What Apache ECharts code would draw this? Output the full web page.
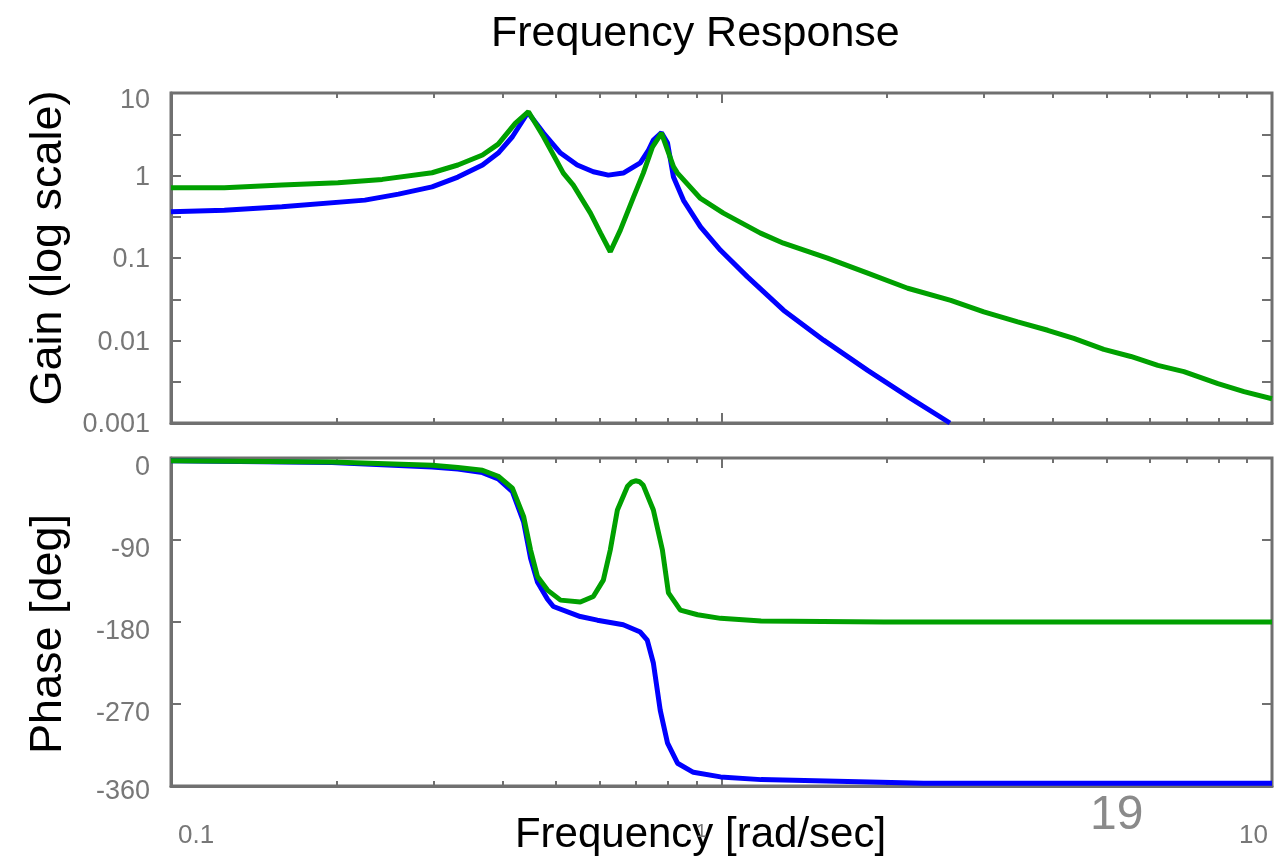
<!DOCTYPE html>
<html>
<head>
<meta charset="utf-8">
<script src="https://cdn.jsdelivr.net/npm/echarts@6/dist/echarts.min.js"></script>
<style>
html,body{margin:0;padding:0;background:#ffffff;}
#chart{width:1274px;height:858px;}
</style>
</head>
<body>
<div id="chart"></div>
<script>
// ---------- texts ----------
const titleText = 'Frequency Response';
const gainName = 'Gain (log scale)';
const phaseName = 'Phase [deg]';
const freqName = 'Frequency [rad/sec]';
const slideNumber = '19';

// ---------- ticks ----------
const gainTicks = [0.001, 0.00316, 0.01, 0.0316, 0.1, 0.316, 1, 3.16, 10];
const gainLabelValues = [0.001, 0.01, 0.1, 1, 10];
const gainLabels = ['0.001', '0.01', '0.1', '1', '10'];
const phaseTicks = [-360, -270, -180, -90, 0];
const phaseLabels = ['-360', '-270', '-180', '-90', '0'];
const freqMajorTicks = [0.1, 1, 10];
const freqMinorTicks = [0.2, 0.3, 0.4, 0.5, 0.6, 0.7, 0.8, 0.9, 2, 3, 4, 5, 6, 7, 8, 9];
const freqLabels = ['0.1', '1', '10'];

// ---------- data: [frequency rad/s, value] ----------
const blueGain = [
  [0.100,0.363],[0.125,0.380],[0.159,0.417],[0.225,0.503],[0.259,0.595],[0.298,0.729],
  [0.332,0.956],[0.368,1.34],[0.393,1.87],[0.417,2.95],[0.445,5.8],[0.475,3.27],
  [0.510,1.87],[0.547,1.34],[0.585,1.11],[0.623,1.01],[0.663,1.07],[0.712,1.42],
  [0.737,2.03],[0.752,2.69],[0.778,3.3],[0.798,2.47],[0.818,0.96],[0.853,0.50],
  [0.916,0.238],[0.996,0.124],[1.115,0.059],[1.296,0.0233],[1.533,0.0101],
  [1.843,0.00435],[2.206,0.00199],[2.6,0.001]
];
const greenGain = [
  [0.100,0.709],[0.125,0.709],[0.159,0.765],[0.201,0.815],[0.242,0.897],[0.298,1.08],
  [0.332,1.34],[0.368,1.77],[0.393,2.40],[0.422,4.29],[0.446,5.93],[0.475,2.95],
  [0.516,1.07],[0.538,0.765],[0.578,0.35],[0.603,0.20],[0.628,0.119],[0.655,0.218],
  [0.692,0.547],[0.721,1.07],[0.749,2.21],[0.778,3.27],[0.798,2.03],[0.818,1.28],
  [0.832,1.07],[0.916,0.527],[1.008,0.35],[1.177,0.20],[1.296,0.151],[1.558,0.0994],
  [1.843,0.0654],[2.179,0.043],[2.609,0.0307],[2.996,0.0222],[3.452,0.0168],
  [3.914,0.0133],[4.365,0.0106],[4.949,0.0078],[5.541,0.0064],[6.203,0.0050],
  [6.918,0.0042],[7.976,0.0030],[8.895,0.0024],[10,0.00197]
];
const bluePhase = [
  [0.1,-3],[0.196,-5],[0.298,-10],[0.332,-12],[0.368,-16],[0.393,-23],[0.417,-37],
  [0.437,-70],[0.45,-110],[0.463,-136],[0.483,-155],[0.495,-163],[0.554,-174],
  [0.595,-178],[0.663,-183],[0.712,-191],[0.733,-200],[0.752,-225],[0.774,-277],
  [0.798,-313],[0.832,-335],[0.889,-345],[0.996,-350],[1.18,-353],[2.33,-357],[10,-357]
];
const greenPhase = [
  [0.1,-3],[0.196,-4.5],[0.298,-8],[0.332,-10.5],[0.368,-13.5],[0.393,-20],[0.417,-33],
  [0.437,-64],[0.45,-101],[0.463,-130],[0.483,-145],[0.51,-156],[0.554,-158],
  [0.585,-152],[0.61,-134],[0.628,-101],[0.647,-57],[0.675,-31],[0.687,-26.5],[0.698,-25],
  [0.71,-26],[0.721,-30],[0.752,-57],[0.781,-101],[0.801,-148],[0.842,-167],[0.905,-172],
  [0.996,-176],[1.18,-179],[1.97,-180],[10,-180]
];

// ---------- styles ----------
const AX = '#707070';
const LABEL = '#777777';
const FONT = 'Liberation Sans, Arial, Helvetica, sans-serif';
const BLUE = '#0000ff';
const GREEN = '#00a000';

function nearestLog(arr, v) {
  let best = 0, bd = Infinity;
  arr.forEach((a, i) => {
    const d = Math.abs(Math.log10(Math.abs(a)) - Math.log10(Math.abs(v)));
    if (d < bd) { bd = d; best = i; }
  });
  return best;
}
function nearestLin(arr, v) {
  let best = 0, bd = Infinity;
  arr.forEach((a, i) => { const d = Math.abs(a - v); if (d < bd) { bd = d; best = i; } });
  return best;
}

function tick(values, len) {
  return {show: true, inside: true, length: len, customValues: values, lineStyle: {color: AX, width: 2}};
}

function xAxesFor(gridIndex, withLabels) {
  const base = {
    type: 'log', logBase: 10, min: 0.1, max: 10, gridIndex: gridIndex,
    splitLine: {show: false}, axisLabel: {show: false},
    axisLine: {show: false, onZero: false}
  };
  const main = Object.assign({}, base, {
    position: 'bottom',
    axisLine: {show: true, onZero: false, lineStyle: {color: AX, width: 3}},
    axisTick: tick(freqMajorTicks, 10)
  });
  if (withLabels) {
    main.axisLabel = {
      show: true, customValues: freqMajorTicks, margin: 37,
      color: LABEL, fontSize: 26, fontFamily: FONT,
      alignMinLabel: 'left', alignMaxLabel: 'right',
      formatter: function (v) {
        const i = nearestLog(freqMajorTicks, v);
        return '{f' + i + '|' + freqLabels[i] + '}';
      },
      rich: {
        f0: {fontSize: 26, color: LABEL, fontFamily: FONT, padding: [0, 0, 0, 7]},
        f1: {fontSize: 18, color: LABEL, fontFamily: FONT, padding: [0, 40, 10, 0]},
        f2: {fontSize: 26, color: LABEL, fontFamily: FONT, padding: [0, 4, 0, 0]}
      }
    };
    main.name = freqName;
    main.nameLocation = 'middle';
    main.nameGap = 28;
    main.nameMoveOverlap = false;
    main.nameTextStyle = {fontSize: 42, color: '#000', fontFamily: FONT, padding: [0, 42, 0, 0]};
  }
  return [
    main,
    Object.assign({}, base, {position: 'bottom', axisTick: tick(freqMinorTicks, 5)}),
    Object.assign({}, base, {position: 'top', axisTick: tick(freqMajorTicks, 10)}),
    Object.assign({}, base, {position: 'top', axisTick: tick(freqMinorTicks, 5)})
  ];
}

const gainRich = {
  g: {fontSize: 27, color: LABEL, fontFamily: FONT, padding: [4, 0, 0, 0]},
  gt: {fontSize: 27, color: LABEL, fontFamily: FONT, padding: [16, 0, 0, 0]}
};
const phaseRich = {
  p: {fontSize: 27, color: LABEL, fontFamily: FONT, padding: [20, 0, 0, 0]},
  pb: {fontSize: 27, color: LABEL, fontFamily: FONT, padding: [12, 0, 0, 0]}
};

const yAxes = [
  {
    type: 'log', logBase: 10, min: 0.001, max: 10, gridIndex: 0, position: 'left',
    splitLine: {show: false},
    axisLine: {show: true, onZero: false, lineStyle: {color: AX, width: 3}},
    axisTick: tick(gainTicks, 10),
    axisLabel: {
      show: true, customValues: gainLabelValues, margin: 21,
      color: LABEL, fontSize: 27, fontFamily: FONT, rich: gainRich,
      formatter: function (v) {
        const i = nearestLog(gainLabelValues, v);
        return (i === gainLabels.length - 1 ? '{gt|' : '{g|') + gainLabels[i] + '}';
      }
    },
    name: gainName, nameLocation: 'middle', nameGap: 100, nameMoveOverlap: false,
    nameTextStyle: {fontSize: 45, color: '#000', fontFamily: FONT, padding: [0, 0, 0, 20]}
  },
  {
    type: 'log', logBase: 10, min: 0.001, max: 10, gridIndex: 0, position: 'right',
    splitLine: {show: false}, axisLine: {show: false, onZero: false},
    axisTick: tick(gainTicks, 10), axisLabel: {show: false}
  },
  {
    type: 'value', min: -360, max: 0, interval: 90, gridIndex: 1, position: 'left',
    splitLine: {show: false},
    axisLine: {show: true, onZero: false, lineStyle: {color: AX, width: 3}},
    axisTick: tick(phaseTicks, 10),
    axisLabel: {
      show: true, customValues: phaseTicks, margin: 21,
      color: LABEL, fontSize: 27, fontFamily: FONT, rich: phaseRich,
      formatter: function (v) {
        const i = nearestLin(phaseTicks, v);
        return (i === 0 ? '{pb|' : '{p|') + phaseLabels[i] + '}';
      }
    },
    name: phaseName, nameLocation: 'middle', nameGap: 100, nameMoveOverlap: false,
    nameTextStyle: {fontSize: 45, color: '#000', fontFamily: FONT, padding: [0, 24, 0, 0]}
  },
  {
    type: 'value', min: -360, max: 0, interval: 90, gridIndex: 1, position: 'right',
    splitLine: {show: false}, axisLine: {show: false, onZero: false},
    axisTick: tick(phaseTicks, 10), axisLabel: {show: false}
  }
];

function line(data, color, xi, yi, z) {
  return {
    type: 'line', data: data, xAxisIndex: xi, yAxisIndex: yi,
    showSymbol: false, symbol: 'none', smooth: false, z: z,
    lineStyle: {color: color, width: 5}, itemStyle: {color: color},
    animation: false
  };
}

const option = {
  animation: false,
  backgroundColor: '#ffffff',
  textStyle: {fontFamily: FONT},
  title: {
    text: titleText, left: 486, top: 8,
    textStyle: {fontSize: 43, fontWeight: 'normal', color: '#000', fontFamily: FONT}
  },
  grid: [
    {left: 171, right: 2, top: 93, height: 330, show: true, borderColor: AX, borderWidth: 3,
     backgroundColor: 'transparent', containLabel: false, outerBoundsMode: 'none'},
    {left: 171, right: 2, top: 458, height: 328, show: true, borderColor: AX, borderWidth: 3,
     backgroundColor: 'transparent', containLabel: false, outerBoundsMode: 'none'}
  ],
  xAxis: xAxesFor(0, false).concat(xAxesFor(1, true)),
  yAxis: yAxes,
  series: [
    line(blueGain, BLUE, 0, 0, 2),
    line(greenGain, GREEN, 0, 0, 3),
    line(bluePhase, BLUE, 4, 2, 2),
    line(greenPhase, GREEN, 4, 2, 3)
  ],
  graphic: [
    {type: 'text', left: 1090, top: 792, style: {text: slideNumber, fontSize: 48, fill: '#8a8a8a', fontFamily: FONT}}
  ]
};

const chart = echarts.init(document.getElementById('chart'), null, {renderer: 'canvas'});
chart.setOption(option);
</script>
</body>
</html>
